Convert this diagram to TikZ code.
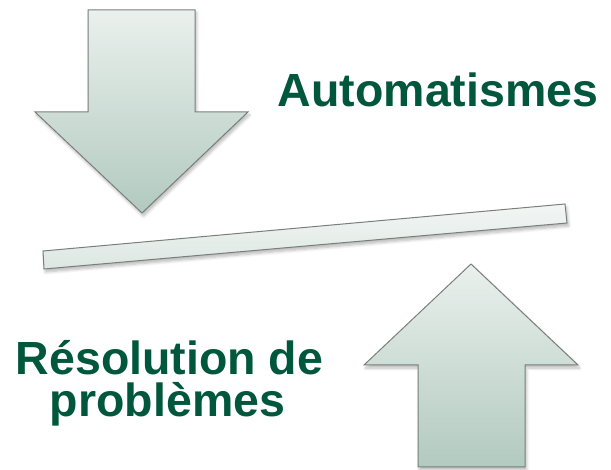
\documentclass[tikz,border=0pt]{standalone}
\usepackage{fontspec}
\setmainfont{Liberation Sans}
\usetikzlibrary{shadows.blur}
\definecolor{labelgreen}{HTML}{00573B}
\definecolor{arrowtop}{HTML}{EAF0ED}
\definecolor{arrowbottom}{HTML}{B2CAC0}
\definecolor{bartop}{HTML}{F2F6F4}
\definecolor{barbottom}{HTML}{DCE7E2}
\definecolor{edgegray}{HTML}{7A7F7C}
\tikzset{
  softshadow/.style={blur shadow={shadow xshift=1.5pt, shadow yshift=-3pt,
      shadow opacity=28, shadow blur steps=6, shadow blur radius=3pt}},
  bigarrow/.style={draw=edgegray, line width=1pt, line join=miter,
      top color=arrowtop, bottom color=arrowbottom, softshadow},
  plank/.style={draw=edgegray, line width=1pt,
      top color=bartop, bottom color=barbottom, softshadow},
  caption/.style={text=labelgreen, font=\fontsize{46.5}{46.5}\selectfont\bfseries,
      inner sep=0pt, anchor=base}
}
\begin{document}
\begin{tikzpicture}[x=1pt, y=-1pt]
  \useasboundingbox (0,0) rectangle (611,470);
  % downward arrow
  \path[bigarrow] (88,10) -- (195,10) -- (195,112) -- (248,112) -- (142,213)
    -- (35,112) -- (88,112) -- cycle;
  % tilted plank
  \path[plank] (43,251) -- (565,204) -- (567,223) -- (44,269) -- cycle;
  % upward arrow
  \path[bigarrow] (418,467) -- (525,467) -- (525,365) -- (578,365) -- (471,264)
    -- (364,365) -- (418,365) -- cycle;
  % labels
  \node[caption] (auto) at (438,107) {Automatismes};
  \node[caption] (reso) at (169.5,375) {Résolution de};
  \node[caption] (prob) at (167.5,417) {problèmes};
\end{tikzpicture}
\end{document}
